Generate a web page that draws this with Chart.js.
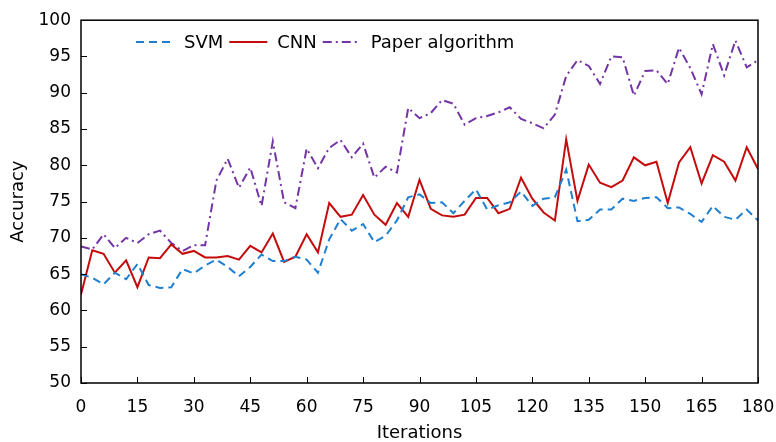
<!DOCTYPE html>
<html>
<head>
<meta charset="utf-8">
<script src="https://cdn.jsdelivr.net/npm/chart.js@4.4.0/dist/chart.umd.min.js"></script>
<style>
    html, body { margin: 0; padding: 0; background: #fff; }
    #wrap { width: 776px; height: 442px; }
</style>
</head>
<body>
<div id="wrap"><canvas id="acc-chart" width="776" height="442"></canvas></div>
<script>
const iterations = [0, 3, 6, 9, 12, 15, 18, 21, 24, 27, 30, 33, 36, 39, 42, 45, 48, 51, 54, 57,
    60, 63, 66, 69, 72, 75, 78, 81, 84, 87, 90, 93, 96, 99, 102, 105, 108, 111, 114, 117,
    120, 123, 126, 129, 132, 135, 138, 141, 144, 147, 150, 153, 156, 159, 162, 165, 168, 171, 174, 177, 180];

const svmValues = [65.0, 64.5, 63.6, 65.2, 64.3, 66.4, 63.5, 63.1, 63.2, 65.7,
    65.1, 66.2, 67.0, 66.0, 64.7, 66.0, 67.7, 66.8, 66.8, 67.4,
    67.0, 65.2, 69.8, 72.6, 71.0, 71.9, 69.4, 70.3, 72.4, 75.6,
    76.0, 74.8, 74.9, 73.4, 75.1, 76.7, 73.9, 74.5, 74.9, 76.4,
    74.4, 75.4, 75.6, 79.4, 72.3, 72.5, 73.9, 73.9, 75.4, 75.1,
    75.5, 75.6, 74.1, 74.2, 73.3, 72.2, 74.4, 72.9, 72.5, 73.9, 72.4];

const cnnValues = [62.2, 68.3, 67.8, 65.2, 66.9, 63.2, 67.3, 67.2, 69.1, 67.8,
    68.2, 67.3, 67.3, 67.5, 67.0, 68.9, 68.0, 70.6, 66.7, 67.4,
    70.5, 68.0, 74.8, 72.9, 73.2, 75.9, 73.2, 71.8, 74.8, 72.9,
    78.0, 74.0, 73.1, 72.9, 73.2, 75.5, 75.5, 73.4, 74.0, 78.3,
    75.4, 73.5, 72.4, 83.6, 75.1, 80.1, 77.6, 77.0, 77.9, 81.1,
    80.0, 80.5, 74.8, 80.4, 82.5, 77.5, 81.4, 80.5, 77.9, 82.5, 79.5];

const paperValues = [68.8, 68.4, 70.5, 68.6, 70.0, 69.3, 70.5, 71.0, 69.3, 68.2,
    69.0, 69.0, 77.9, 80.9, 76.9, 79.7, 74.4, 83.3, 74.9, 74.1,
    82.3, 79.6, 82.4, 83.5, 81.1, 83.0, 78.3, 79.8, 79.0, 87.9,
    86.5, 87.2, 89.0, 88.5, 85.6, 86.5, 86.8, 87.3, 88.0, 86.4,
    85.8, 85.1, 87.0, 92.3, 94.5, 93.7, 91.2, 95.0, 94.9, 89.6,
    93.0, 93.1, 91.2, 96.2, 93.4, 89.8, 96.7, 92.4, 97.2, 93.5, 94.5];

const seriesNames = ['SVM', 'CNN', 'Paper algorithm'];

function toPoints(values) {
    return values.map((v, i) => ({x: iterations[i], y: v}));
}

Chart.defaults.font.family = "'DejaVu Sans', Verdana, sans-serif";
Chart.defaults.color = '#000';

// box round the plot and short ticks pointing inwards
const frameTicks = {
    id: 'frameTicks',
    afterDraw(chart) {
        const {ctx, chartArea: a, scales} = chart;
        ctx.save();
        ctx.strokeStyle = '#000';
        ctx.lineWidth = 1;
        scales.x.ticks.forEach(t => {
            const px = Math.round(scales.x.getPixelForValue(t.value)) + 0.5;
            ctx.beginPath();
            ctx.moveTo(px, a.bottom);
            ctx.lineTo(px, a.bottom - 6);
            ctx.stroke();
        });
        scales.y.ticks.forEach(t => {
            const py = Math.round(scales.y.getPixelForValue(t.value)) + 0.5;
            ctx.beginPath();
            ctx.moveTo(a.left, py);
            ctx.lineTo(a.left + 6, py);
            ctx.stroke();
        });
        ctx.lineWidth = 1.5;
        ctx.strokeRect(a.left, a.top, a.right - a.left, a.bottom - a.top);
        ctx.restore();
    }
};

// legend drawn inside the plot, one row
const innerLegend = {
    id: 'innerLegend',
    afterDatasetsDraw(chart) {
        const ctx = chart.ctx;
        let x = 136;
        const y = 42;
        ctx.save();
        ctx.font = "18px 'DejaVu Sans', Verdana, sans-serif";
        ctx.textBaseline = 'middle';
        chart.data.datasets.forEach(ds => {
            ctx.strokeStyle = ds.borderColor;
            ctx.lineWidth = ds.borderWidth;
            ctx.setLineDash(ds.borderDash || []);
            ctx.beginPath();
            ctx.moveTo(x, y);
            ctx.lineTo(x + 38, y);
            ctx.stroke();
            ctx.setLineDash([]);
            x += 38 + 10;
            ctx.fillStyle = '#000';
            ctx.fillText(ds.label, x, y + 1);
            x += ctx.measureText(ds.label).width + 6;
        });
        ctx.restore();
    }
};

new Chart(document.getElementById('acc-chart'), {
    type: 'line',
    data: {
        datasets: [
            {
                label: seriesNames[0],
                data: toPoints(svmValues),
                borderColor: '#1f7fd0',
                borderWidth: 2,
                borderDash: [8, 5],
                pointRadius: 0,
                tension: 0
            },
            {
                label: seriesNames[1],
                data: toPoints(cnnValues),
                borderColor: '#c40c0c',
                borderWidth: 2,
                pointRadius: 0,
                tension: 0
            },
            {
                label: seriesNames[2],
                data: toPoints(paperValues),
                borderColor: '#7434a6',
                borderWidth: 2,
                borderDash: [9, 4, 2, 4],
                pointRadius: 0,
                tension: 0
            }
        ]
    },
    options: {
        responsive: false,
        animation: false,
        layout: {padding: {top: 19, right: 18, left: 0, bottom: 0}},
        plugins: {
            legend: {display: false},
            tooltip: {enabled: false}
        },
        scales: {
            x: {
                type: 'linear',
                min: 0,
                max: 180,
                grid: {display: false, drawTicks: false, tickLength: 0},
                border: {display: false},
                ticks: {stepSize: 15, padding: 14, font: {size: 17}, maxRotation: 0},
                title: {display: true, text: 'Iterations', font: {size: 18, lineHeight: 1}, padding: {top: 0, bottom: 0}},
                afterFit: s => {
                    s.height = 59;
                    s.paddingLeft = 0;
                    s.paddingRight = 0;
                }
            },
            y: {
                min: 50,
                max: 100,
                grid: {display: false, drawTicks: false, tickLength: 0},
                border: {display: false},
                ticks: {stepSize: 5, padding: 10, font: {size: 17}},
                title: {display: true, text: 'Accuracy', font: {size: 18, lineHeight: 1}, padding: {top: 9, bottom: 9}},
                afterFit: s => { s.width = 81; }
            }
        }
    },
    plugins: [frameTicks, innerLegend]
});
</script>
</body>
</html>
